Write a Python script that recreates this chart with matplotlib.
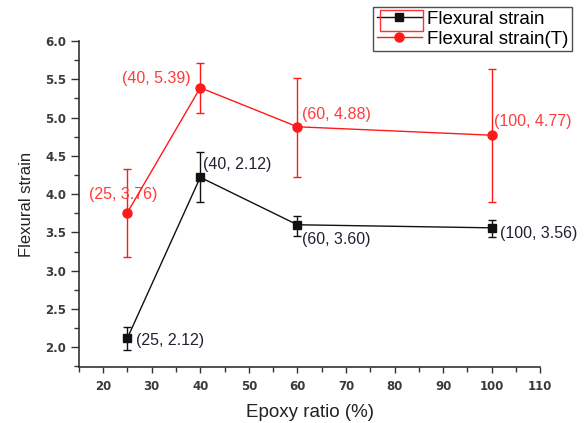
import matplotlib as mpl
mpl.use('Agg')
from matplotlib import pyplot as plt
from matplotlib.ticker import MultipleLocator, FormatStrFormatter
from matplotlib.patches import Rectangle
from matplotlib.lines import Line2D

plt.rcParams['font.family'] = ['Liberation Sans', 'DejaVu Sans']

# data
epoxy = [25, 40, 60, 100]
strain = [2.12, 4.22, 3.60, 3.56]
strain_lo = [1.96, 3.90, 3.45, 3.44]
strain_hi = [2.27, 4.55, 3.72, 3.66]
strain_t = [3.76, 5.39, 4.88, 4.77]
strain_t_lo = [3.18, 5.06, 4.22, 3.90]
strain_t_hi = [4.33, 5.71, 5.52, 5.63]
labels = ['(25, 2.12)', '(40, 2.12)', '(60, 3.60)', '(100, 3.56)']
labels_t = ['(25, 3.76)', '(40, 5.39)', '(60, 4.88)', '(100, 4.77)']

# label offsets (points) and horizontal alignment
off = [((6.5, -1.5), 'left'), ((2, 9), 'left'), ((3, -10.5), 'left'), ((6, -4), 'left')]
off_t = [((-3, 13), 'center'), ((-7, 6.5), 'right'), ((3, 9), 'left'), ((1.5, 10), 'left')]

BLACK = '#111111'
RED = '#ff1a1a'

fig = plt.figure(figsize=(5.84, 4.23), dpi=100)
ax = fig.add_axes([0.135, 0.132, 0.79, 0.771])

err = [[v - l for v, l in zip(strain, strain_lo)], [h - v for v, h in zip(strain, strain_hi)]]
err_t = [[v - l for v, l in zip(strain_t, strain_t_lo)], [h - v for v, h in zip(strain_t, strain_t_hi)]]

ax.errorbar(epoxy, strain, yerr=err, color=BLACK, lw=1, marker='s', ms=6,
            capsize=3, elinewidth=1, capthick=1, zorder=3)
ax.errorbar(epoxy, strain_t, yerr=err_t, color=RED, lw=1, marker='o', ms=6.5,
            capsize=3, elinewidth=1, capthick=1, zorder=3)

for x, y, t, (o, ha) in zip(epoxy, strain, labels, off):
    ax.annotate(t, (x, y), xytext=o, textcoords='offset points', ha=ha, va='center',
                fontsize=11.5, color='#1f2233')
for x, y, t, (o, ha) in zip(epoxy, strain_t, labels_t, off_t):
    ax.annotate(t, (x, y), xytext=o, textcoords='offset points', ha=ha, va='center',
                fontsize=11.5, color='#ff3b3b')

ax.set_xlim(15, 110)
ax.set_ylim(1.74, 6.0)
ax.set_xticks(range(20, 111, 10))
ax.xaxis.set_minor_locator(MultipleLocator(5))
ax.yaxis.set_major_locator(MultipleLocator(0.5))
ax.yaxis.set_minor_locator(MultipleLocator(0.25))
ax.yaxis.set_major_formatter(FormatStrFormatter('%.1f'))

for s in ['top', 'right']:
    ax.spines[s].set_visible(False)
for s in ['left', 'bottom']:
    ax.spines[s].set_color('#333333')
    ax.spines[s].set_linewidth(1.2)

ax.tick_params(which='major', direction='out', width=1, color='#333333',
               labelsize=8.5, labelcolor='#3a3a3a')
ax.tick_params(axis='y', which='major', length=6, pad=3)
ax.tick_params(axis='x', which='major', length=4, pad=5)
ax.tick_params(which='minor', direction='out', length=3.5, width=1, color='#333333')
for lab in ax.get_xticklabels() + ax.get_yticklabels():
    lab.set_fontweight('bold')
    lab.set_family('DejaVu Sans')

ax.set_xlabel('Epoxy ratio (%)', fontsize=13.5, color='#222222', labelpad=8)
ax.set_ylabel('Flexural strain', fontsize=12, color='#222222', labelpad=8)

handles = [Line2D([], [], color=BLACK, lw=1, marker='s', ms=6),
           Line2D([], [], color=RED, lw=1, marker='o', ms=6.5)]
leg = ax.legend(handles, ['Flexural strain', 'Flexural strain(T)'],
                loc='upper right', bbox_to_anchor=(1.07, 1.105), fontsize=13.5,
                frameon=True, fancybox=False, handlelength=2.4, borderpad=0.2,
                labelspacing=0.15, handletextpad=0.3, borderaxespad=0)
leg.get_frame().set_edgecolor('#222222')
leg.get_frame().set_linewidth(1)

# red selection box around first legend handle, as in the source picture
fig.patches.append(Rectangle((380 / 584, 1 - 31 / 423), 43 / 584, 21 / 423,
                             transform=fig.transFigure, fill=False,
                             edgecolor='#ff3030', lw=1, zorder=5))

fig.savefig('out.png', dpi=100)
